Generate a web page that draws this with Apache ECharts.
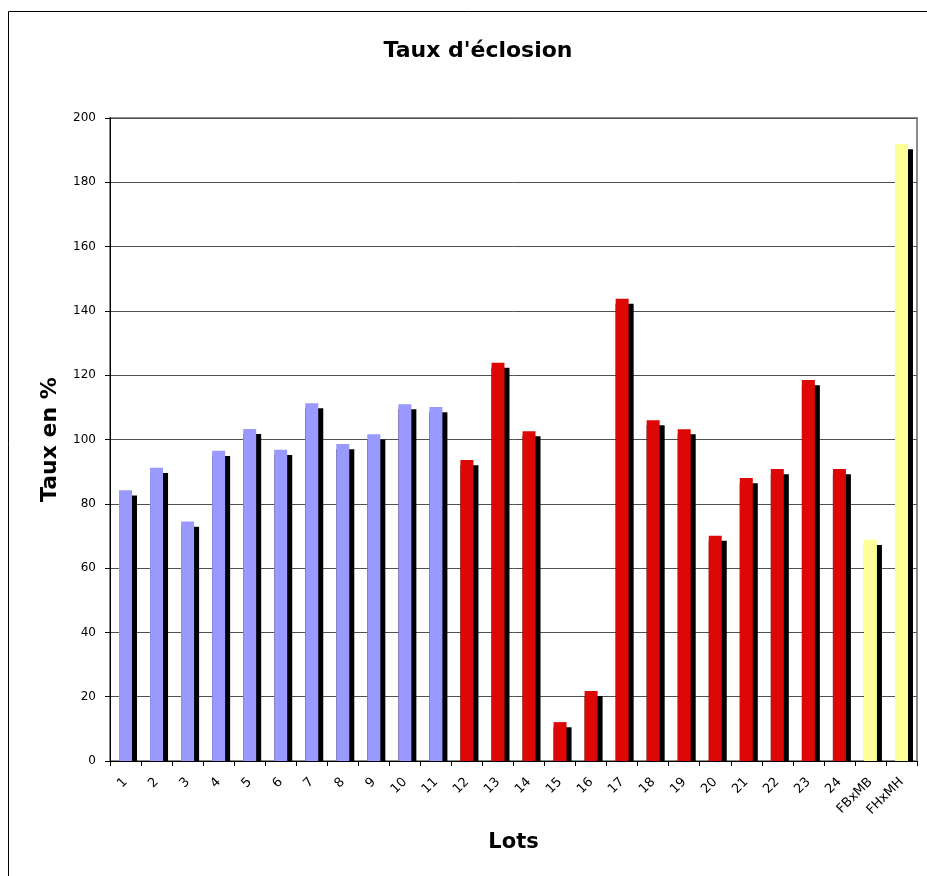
<!DOCTYPE html>
<html>
<head>
<meta charset="utf-8">
<script src="https://cdn.jsdelivr.net/npm/echarts@6/dist/echarts.min.js"></script>
<style>
	html,body{margin:0;padding:0;background:#fff;}
	#chart{width:927px;height:876px;}
</style>
</head>
<body>
<div id="chart"></div>
<script>
	// lots (categories)
	var lots = ['1','2','3','4','5','6','7','8','9','10','11','12','13','14','15','16','17','18','19','20','21','22','23','24','FBxMB','FHxMH'];
	// taux d'éclosion, barre colorée
	var taux = [84.2, 91.2, 74.5, 96.5, 103.3, 96.8, 111.3, 98.6, 101.6, 111.0, 110.1, 93.6, 123.9, 102.6, 12.1, 21.8, 143.8, 106.0, 103.2, 70.1, 88.0, 90.8, 118.5, 90.8, 68.8, 191.9];
	// barre noire (ombre)
	var ombre = [82.6, 89.6, 72.9, 94.9, 101.7, 95.2, 109.7, 97.0, 100.0, 109.4, 108.5, 92.0, 122.3, 101.0, 10.5, 20.2, 142.2, 104.4, 101.6, 68.5, 86.4, 89.2, 116.9, 89.2, 67.2, 190.3];
	// graduations
	var yTicks = {min: 0, max: 200, interval: 20};

	var chart = echarts.init(document.getElementById('chart'));

	//couleur selon le groupe de lots
	function lotColor(params){
		if(params.dataIndex < 11){
			return '#9999FF';
		}else if(params.dataIndex < 24){
			return '#DD0806';
		}
		return '#FFFF99';
	}

	chart.setOption({
		animation: false,
		textStyle: {fontFamily: 'DejaVu Sans'},
		title: {
			text: "Taux d'éclosion",
			left: 473,
			top: 35,
			textAlign: 'center',
			textStyle: {fontFamily: 'DejaVu Sans', fontSize: 22, fontWeight: 'bold', color: '#000'}
		},
		graphic: [{
			type: 'rect',
			shape: {x: 8.5, y: 11.5, width: 1000, height: 1000},
			style: {fill: null, stroke: '#000', lineWidth: 1},
			silent: true
		}],
		grid: {
			left: 110,
			right: 10,
			top: 118,
			bottom: 115,
			show: true,
			borderColor: '#8c8c8c',
			borderWidth: 2
		},
		xAxis: {
			type: 'category',
			data: lots,
			name: 'Lots',
			nameLocation: 'middle',
			nameGap: 71,
			nameTextStyle: {fontFamily: 'DejaVu Sans', fontSize: 21, fontWeight: 'bold', color: '#000'},
			axisLine: {lineStyle: {color: '#000', width: 1}},
			axisTick: {show: true, length: 5, lineStyle: {color: '#000'}},
			axisLabel: {rotate: 45, interval: 0, fontSize: 13, color: '#000', margin: 19}
		},
		yAxis: {
			type: 'value',
			min: yTicks.min,
			max: yTicks.max,
			interval: yTicks.interval,
			name: 'Taux en %',
			nameLocation: 'middle',
			nameGap: 49,
			nameTextStyle: {fontFamily: 'DejaVu Sans', fontSize: 22, fontWeight: 'bold', color: '#000'},
			axisLine: {show: true, lineStyle: {color: '#000', width: 1}},
			axisTick: {show: true, length: 5, lineStyle: {color: '#000'}},
			axisLabel: {fontSize: 12, color: '#000', margin: 14},
			splitLine: {lineStyle: {color: '#505050', width: 1}}
		},
		series: [{
			name: 'ombre',
			type: 'bar',
			barWidth: 18,
			barGap: '-100%',
			itemStyle: {color: '#000'},
			data: ombre
		},{
			name: 'taux',
			type: 'bar',
			barWidth: 13,
			barGap: '-100%',
			itemStyle: {color: lotColor},
			data: taux
		}]
	});
</script>
</body>
</html>
